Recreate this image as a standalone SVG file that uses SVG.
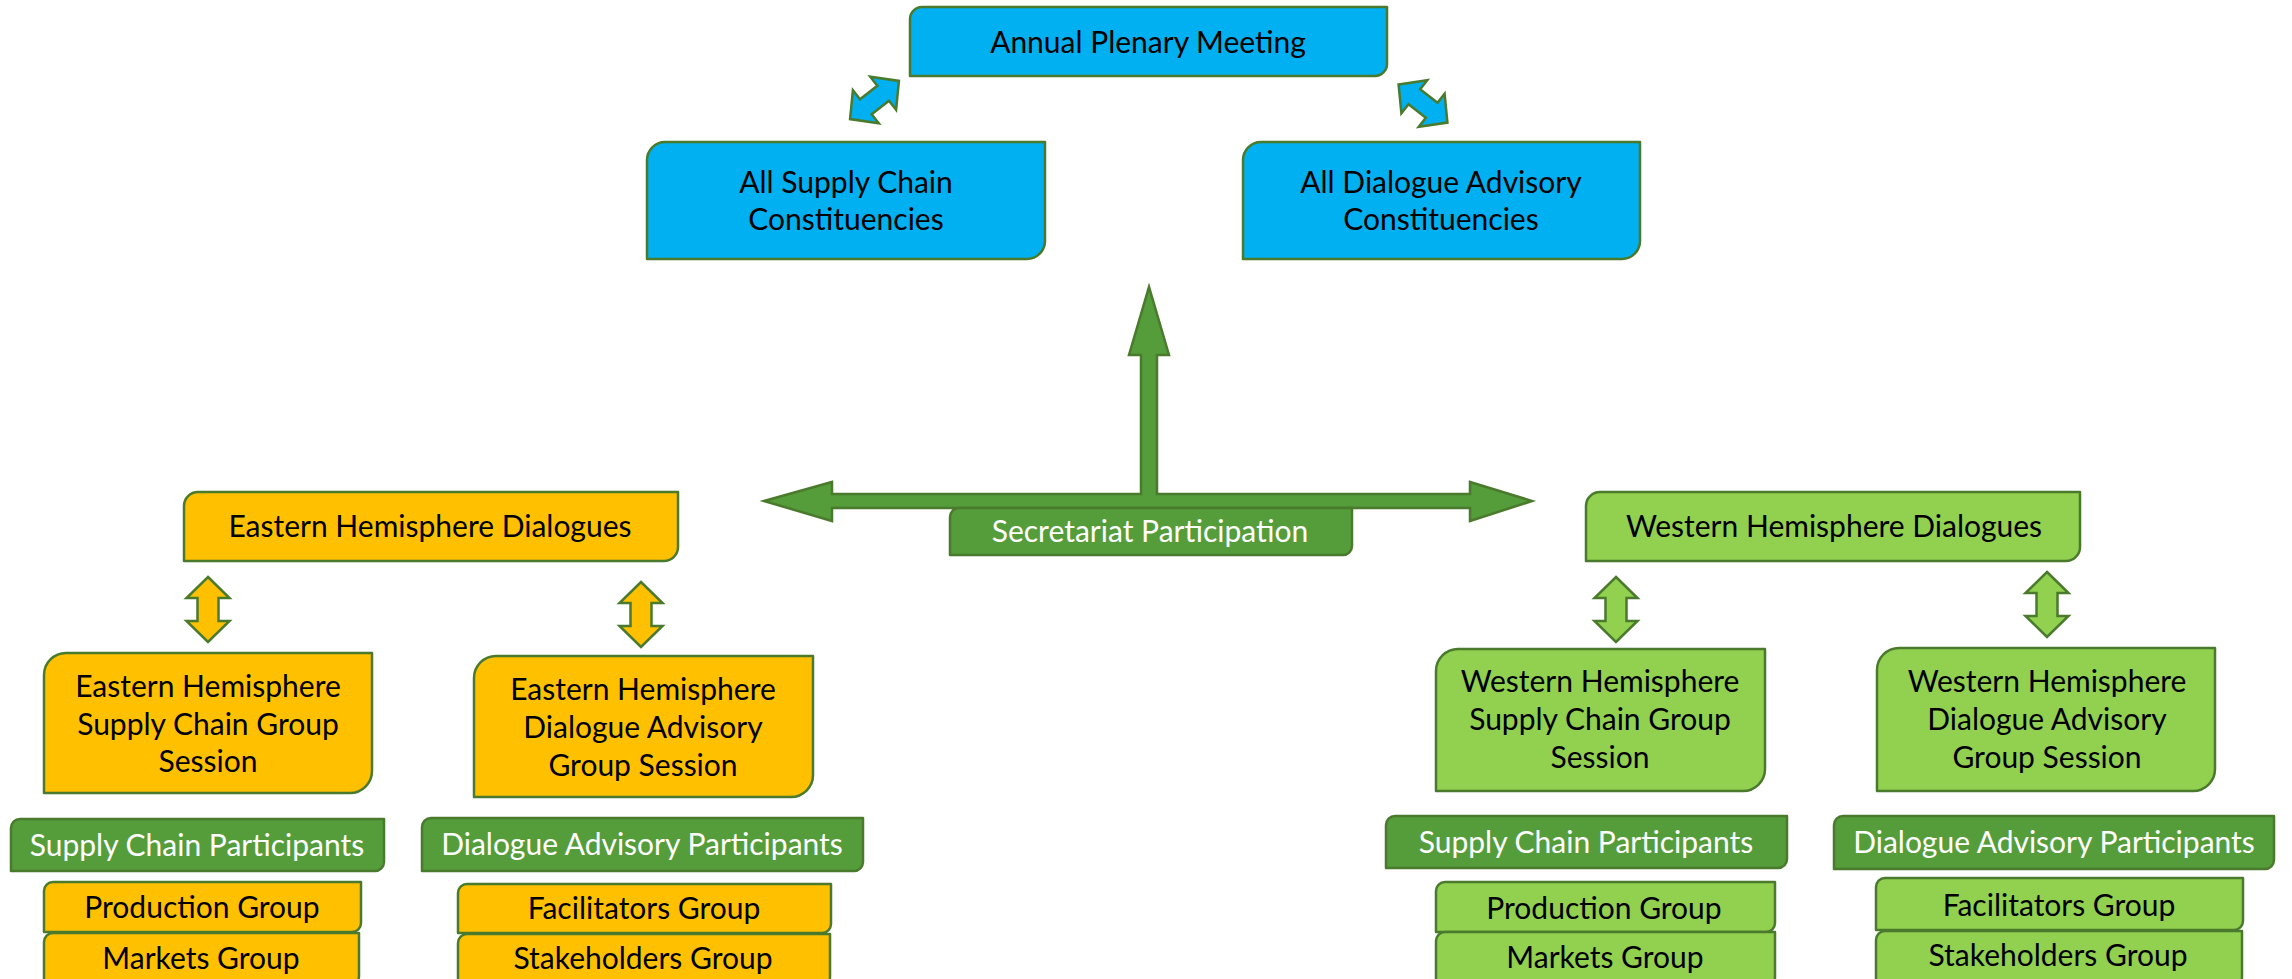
<svg xmlns="http://www.w3.org/2000/svg" xmlns:xlink="http://www.w3.org/1999/xlink" width="2292" height="979" viewBox="0 0 2292 979">
<style>
.box{stroke:#4A7A2C;stroke-width:2.5;stroke-linejoin:round}
.blue{fill:#00B0F0}
.orange{fill:#FFC000}
.lgreen{fill:#92D050}
.dgreen{fill:#559D3B}
.arr{stroke:#4A7A2C;stroke-width:2.5;stroke-linejoin:miter}
text{font-family:Lato,"Liberation Sans",sans-serif;font-size:30px;text-anchor:middle;fill:#000}
text.w{fill:#FFFFFF}
</style>
<defs>
<polygon id="vda" points="0,-32.5 21.5,-11.5 10.5,-11.5 10.5,11.5 21.5,11.5 0,32.5 -21.5,11.5 -10.5,11.5 -10.5,-11.5 -21.5,-11.5"/>
<polygon id="dda" points="-31,0 -11,-21 -11,-9.5 11,-9.5 11,-21 31,0 11,21 11,9.5 -11,9.5 -11,21"/>
</defs>
<rect width="2292" height="979" fill="#FFFFFF"/>
<g id="connectors">
<use xlink:href="#dda" class="arr blue" transform="translate(874.5,100) rotate(-38)"/>
<use xlink:href="#dda" class="arr blue" transform="translate(1423,103.5) rotate(38)"/>
<polygon class="arr dgreen" points="764,501 832,482 832,494 1141,494 1141,355 1129,355 1149,287 1169,355 1157,355 1157,494 1470,494 1470,482 1532,501 1470,521 1470,508 832,508 832,521"/>
<use xlink:href="#vda" class="arr orange" transform="translate(208,609.5)"/>
<use xlink:href="#vda" class="arr orange" transform="translate(641,614.5)"/>
<use xlink:href="#vda" class="arr lgreen" transform="translate(1616,609.5)"/>
<use xlink:href="#vda" class="arr lgreen" transform="translate(2047,604.5)"/>
</g>
<g id="annual-plenary">
<path class="box blue" d="M922 7 H1387 V64 A12 12 0 0 1 1375 76 H910 V19 A12 12 0 0 1 922 7 Z"/>
<text x="1148" y="53">Annual Plenary Meeting</text>
</g>
<g id="all-supply-chain">
<path class="box blue" d="M665 142 H1045 V241 A18 18 0 0 1 1027 259 H647 V160 A18 18 0 0 1 665 142 Z"/>
<text x="846" y="193">All Supply Chain</text>
<text x="846" y="230">Constituencies</text>
</g>
<g id="all-dialogue-advisory">
<path class="box blue" d="M1261 142 H1640 V241 A18 18 0 0 1 1622 259 H1243 V160 A18 18 0 0 1 1261 142 Z"/>
<text x="1441" y="193">All Dialogue Advisory</text>
<text x="1441" y="230">Constituencies</text>
</g>
<g id="secretariat">
<path class="box dgreen" d="M959 508 H1352 V546 A9 9 0 0 1 1343 555 H950 V517 A9 9 0 0 1 959 508 Z"/>
<text class="w" x="1150" y="542">Secretariat Participation</text>
</g>
<g id="eastern-dialogues">
<path class="box orange" d="M198 492 H678 V547 A14 14 0 0 1 664 561 H184 V506 A14 14 0 0 1 198 492 Z"/>
<text x="430" y="537">Eastern Hemisphere Dialogues</text>
</g>
<g id="western-dialogues">
<path class="box lgreen" d="M1600 492 H2080 V547 A14 14 0 0 1 2066 561 H1586 V506 A14 14 0 0 1 1600 492 Z"/>
<text x="1834" y="537">Western Hemisphere Dialogues</text>
</g>
<g id="eastern-sc-session">
<path class="box orange" d="M66 653 H372 V771 A22 22 0 0 1 350 793 H44 V675 A22 22 0 0 1 66 653 Z"/>
<text x="208" y="697">Eastern Hemisphere</text>
<text x="208" y="735">Supply Chain Group</text>
<text x="208" y="772">Session</text>
</g>
<g id="eastern-da-session">
<path class="box orange" d="M496 656 H813 V775 A22 22 0 0 1 791 797 H474 V678 A22 22 0 0 1 496 656 Z"/>
<text x="643" y="700">Eastern Hemisphere</text>
<text x="643" y="738">Dialogue Advisory</text>
<text x="643" y="776">Group Session</text>
</g>
<g id="western-sc-session">
<path class="box lgreen" d="M1458 649 H1765 V769 A22 22 0 0 1 1743 791 H1436 V671 A22 22 0 0 1 1458 649 Z"/>
<text x="1600" y="692">Western Hemisphere</text>
<text x="1600" y="730">Supply Chain Group</text>
<text x="1600" y="768">Session</text>
</g>
<g id="western-da-session">
<path class="box lgreen" d="M1899 648 H2215 V769 A22 22 0 0 1 2193 791 H1877 V670 A22 22 0 0 1 1899 648 Z"/>
<text x="2047" y="692">Western Hemisphere</text>
<text x="2047" y="730">Dialogue Advisory</text>
<text x="2047" y="768">Group Session</text>
</g>
<g id="eastern-sc-participants">
<path class="box dgreen" d="M20 819 H384 V862 A9 9 0 0 1 375 871 H11 V828 A9 9 0 0 1 20 819 Z"/>
<text class="w" x="197" y="856">Supply Chain Participants</text>
</g>
<g id="eastern-da-participants">
<path class="box dgreen" d="M431 818 H863 V862 A9 9 0 0 1 854 871 H422 V827 A9 9 0 0 1 431 818 Z"/>
<text class="w" x="642" y="855">Dialogue Advisory Participants</text>
</g>
<g id="western-sc-participants">
<path class="box dgreen" d="M1395 816 H1787 V859 A9 9 0 0 1 1778 868 H1386 V825 A9 9 0 0 1 1395 816 Z"/>
<text class="w" x="1586" y="853">Supply Chain Participants</text>
</g>
<g id="western-da-participants">
<path class="box dgreen" d="M1843 816 H2274 V860 A9 9 0 0 1 2265 869 H1834 V825 A9 9 0 0 1 1843 816 Z"/>
<text class="w" x="2054" y="853">Dialogue Advisory Participants</text>
</g>
<g id="eastern-production">
<path class="box orange" d="M53 882 H361 V923 A9 9 0 0 1 352 932 H44 V891 A9 9 0 0 1 53 882 Z"/>
<text x="202" y="918">Production Group</text>
</g>
<g id="eastern-markets">
<path class="box orange" d="M53 933 H359 V976 A9 9 0 0 1 350 985 H44 V942 A9 9 0 0 1 53 933 Z"/>
<text x="201" y="969">Markets Group</text>
</g>
<g id="eastern-facilitators">
<path class="box orange" d="M467 884 H831 V924 A9 9 0 0 1 822 933 H458 V893 A9 9 0 0 1 467 884 Z"/>
<text x="644" y="919">Facilitators Group</text>
</g>
<g id="eastern-stakeholders">
<path class="box orange" d="M467 934 H830 V977 A9 9 0 0 1 821 986 H458 V943 A9 9 0 0 1 467 934 Z"/>
<text x="643" y="969">Stakeholders Group</text>
</g>
<g id="western-production">
<path class="box lgreen" d="M1445 882 H1775 V923 A9 9 0 0 1 1766 932 H1436 V891 A9 9 0 0 1 1445 882 Z"/>
<text x="1604" y="919">Production Group</text>
</g>
<g id="western-markets">
<path class="box lgreen" d="M1445 932 H1775 V977 A9 9 0 0 1 1766 986 H1436 V941 A9 9 0 0 1 1445 932 Z"/>
<text x="1605" y="968">Markets Group</text>
</g>
<g id="western-facilitators">
<path class="box lgreen" d="M1885 878 H2243 V921 A9 9 0 0 1 2234 930 H1876 V887 A9 9 0 0 1 1885 878 Z"/>
<text x="2059" y="916">Facilitators Group</text>
</g>
<g id="western-stakeholders">
<path class="box lgreen" d="M1885 931 H2242 V977 A9 9 0 0 1 2233 986 H1876 V940 A9 9 0 0 1 1885 931 Z"/>
<text x="2058" y="966">Stakeholders Group</text>
</g>
</svg>
